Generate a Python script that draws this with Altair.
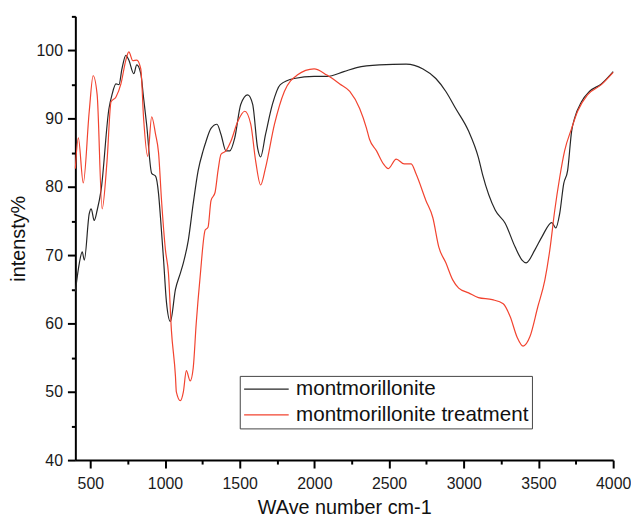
import altair as alt
import pandas as pd

# montmorillonite (black)
wave_raw = [400, 427, 446, 460, 493, 506, 526, 546, 572, 625, 645, 672, 692, 712, 738, 758,
            791, 811, 838, 857, 877, 911, 937, 957, 970, 990, 1010, 1036, 1070, 1103, 1123,
            1156, 1189, 1222, 1255, 1269, 1308, 1348, 1375, 1408, 1434, 1467, 1507, 1554,
            1587, 1620, 1640, 1673, 1719, 1772, 1865, 1998, 2084, 2197, 2283, 2435, 2614,
            2727, 2813, 2880, 2946, 3032, 3098, 3125, 3211, 3277, 3344, 3390, 3417, 3476,
            3523, 3589, 3616, 3642, 3669, 3695, 3722, 3742, 3788, 3841, 3921, 4000]
int_raw = [64.7, 68.9, 70.5, 69.3, 76.1, 76.8, 75.1, 76.6, 79.5, 91.5, 93.5, 95.1, 95.0, 97.3,
           99.3, 98.6, 96.6, 97.9, 96.6, 93.0, 89.2, 82.0, 81.6, 79.0, 75.5, 69.5, 63.1, 60.3,
           65.0, 67.4, 68.9, 72.2, 77.6, 82.4, 85.3, 86.3, 88.6, 89.2, 87.7, 85.3, 85.3, 87.2,
           92.1, 93.5, 92.1, 85.7, 84.4, 87.7, 92.1, 95.0, 95.9, 96.2, 96.2, 96.9, 97.5, 97.9,
           98.0, 97.3, 95.9, 94.0, 91.5, 88.2, 84.3, 81.9, 76.6, 74.7, 71.2, 69.3, 68.9, 70.8,
           72.7, 74.8, 74.0, 76.1, 80.5, 82.4, 88.2, 90.1, 92.5, 94.0, 95.1, 96.9]

# montmorillonite treatment (red)
wave_treat = [400, 420, 453, 493, 519, 546, 579, 612, 639, 672, 705, 738, 758, 785, 811, 838,
              857, 884, 911, 937, 957, 977, 1003, 1023, 1043, 1070, 1076, 1103, 1123, 1143,
              1169, 1189, 1209, 1235, 1269, 1288, 1308, 1335, 1355, 1375, 1408, 1441, 1487,
              1534, 1574, 1607, 1640, 1673, 1733, 1799, 1885, 1998, 2084, 2170, 2237, 2303,
              2349, 2369, 2416, 2462, 2495, 2548, 2601, 2648, 2681, 2747, 2793, 2833, 2880,
              2926, 2966, 3032, 3098, 3191, 3264, 3311, 3357, 3397, 3443, 3496, 3543, 3576,
              3609, 3642, 3675, 3722, 3762, 3828, 3921, 4000]
int_treat = [82.7, 87.2, 80.6, 91.1, 96.3, 93.5, 76.8, 83.8, 92.5, 93.2, 95.1, 98.6, 99.8,
             98.5, 98.6, 97.3, 90.0, 84.5, 90.3, 87.7, 85.0, 78.0, 70.8, 67.4, 59.0, 52.3,
             50.0, 48.7, 50.0, 53.1, 51.6, 53.5, 60.0, 66.8, 73.7, 74.1, 78.0, 79.2, 82.4,
             84.8, 85.3, 86.7, 89.6, 91.1, 89.2, 83.8, 80.3, 82.8, 89.2, 94.0, 96.4, 97.3,
             96.4, 95.1, 94.0, 91.5, 88.6, 87.0, 85.3, 83.4, 82.7, 84.1, 83.4, 83.4, 81.9,
             78.0, 75.5, 71.2, 68.9, 66.4, 65.2, 64.5, 63.8, 63.5, 62.9, 61.0, 58.0, 56.7,
             58.1, 62.5, 66.4, 70.8, 76.6, 81.4, 85.3, 88.6, 91.1, 93.5, 95.0, 96.8]

series_names = ["montmorillonite", "montmorillonite treatment"]
series_colors = ["#262626", "#f2432f"]
x_ticks = list(range(500, 4001, 250))
y_ticks = list(range(40, 106, 5))

df = pd.concat([
    pd.DataFrame({"wave": wave_raw, "intensity": int_raw, "series": series_names[0], "k": 0}),
    pd.DataFrame({"wave": wave_treat, "intensity": int_treat, "series": series_names[1], "k": 1}),
])

FONT = "Liberation Sans"

chart = alt.Chart(df).mark_line(strokeWidth=1.2, interpolate="monotone").encode(
    x=alt.X("wave:Q",
            scale=alt.Scale(domain=[400, 4000], nice=False, zero=False),
            axis=alt.Axis(values=x_ticks, format="d", labelFlush=False,
                          labelExpr="datum.value % 500 == 0 ? datum.label : ''",
                          tickSize={"condition": {"test": "datum.value % 500 == 0", "value": 8}, "value": 4},
                          title="WAve number cm-1", titlePadding=6, labelPadding=8)),
    y=alt.Y("intensity:Q",
            scale=alt.Scale(domain=[40, 105], nice=False, zero=False),
            axis=alt.Axis(values=y_ticks, format="d", labelFlush=False,
                          labelExpr="datum.value % 10 == 0 ? datum.label : ''",
                          tickSize={"condition": {"test": "datum.value % 10 == 0", "value": 8}, "value": 4},
                          title="intensty%", titlePadding=8, labelPadding=5)),
    color=alt.Color("series:N",
                    scale=alt.Scale(domain=series_names, range=series_colors),
                    legend=alt.Legend(title=None, orient="none", legendX=166, legendY=363,
                                      direction="vertical", symbolType="M-1,0H4", symbolSize=324,
                                      symbolStrokeWidth=1.2, labelOffset=33, labelFontSize=20.8,
                                      labelFont=FONT, labelColor="#111", labelLimit=400,
                                      padding=3, rowPadding=4, strokeColor="#444",
                                      fillColor="white")),
    order=alt.Order("k:Q"),
).properties(
    width=543, height=448,
    autosize=alt.AutoSizeParams(type="none"),
    padding={"left": 68, "top": 6, "right": 18, "bottom": 55},
).configure_view(
    stroke=None
).configure_axis(
    grid=False, domainColor="black", domainWidth=2, tickColor="black", tickWidth=2,
    labelFont=FONT, labelFontSize=16, labelColor="#1a1a1a",
    titleFont=FONT, titleFontSize=20, titleFontWeight="normal", titleColor="#111",
)

chart.save("out.html", embed_options={"renderer": "svg", "actions": False})
